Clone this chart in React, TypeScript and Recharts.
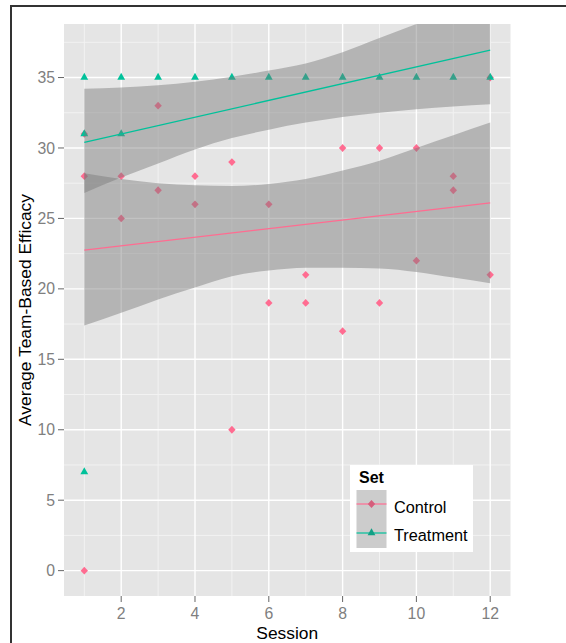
import React from 'react'
import {
  ComposedChart, Scatter, Line, Area, XAxis, YAxis, CartesianGrid, ReferenceLine, Legend
} from 'recharts'

const controlSession = [1, 1, 1, 2, 2, 3, 3, 4, 4, 5, 5, 6, 6, 7, 7, 8, 8, 9, 9, 10, 10, 11, 11, 12, 12]
const controlScore = [28, 0, 31, 28, 25, 33, 27, 28, 26, 29, 10, 26, 19, 21, 19, 30, 17, 30, 19, 30, 22, 28, 27, 35, 21]
const treatmentSession = [1, 1, 1, 2, 2, 3, 4, 5, 6, 7, 8, 9, 10, 11, 12]
const treatmentScore = [35, 31, 7, 35, 31, 35, 35, 35, 35, 35, 35, 35, 35, 35, 35]

// fitted lm lines (end points)
const fitSessions = [1, 12]
const controlFit = [22.75, 26.1]
const treatmentFit = [30.4, 36.95]

// confidence bands at each session
const sessions = [1, 2, 3, 4, 5, 6, 7, 8, 9, 10, 11, 12]
const controlLow = [17.4, 18.3, 19.25, 20.1, 20.9, 21.3, 21.5, 21.5, 21.45, 21.2, 20.8, 20.4]
const controlHigh = [28.2, 27.8, 27.5, 27.35, 27.3, 27.45, 27.8, 28.4, 29.1, 30.0, 30.9, 31.8]
const treatmentLow = [26.8, 27.9, 28.9, 29.9, 30.7, 31.3, 31.8, 32.2, 32.5, 32.75, 32.95, 33.1]
const treatmentHigh = [34.2, 34.3, 34.45, 34.7, 35.05, 35.5, 36.0, 36.8, 37.8, 38.8, 39.8, 40.8]

const xMajor = [2, 4, 6, 8, 10, 12]
const xMinor = [1, 3, 5, 7, 9, 11]
const yMajor = [0, 5, 10, 15, 20, 25, 30, 35]
const yMinor = [2.5, 7.5, 12.5, 17.5, 22.5, 27.5, 32.5, 37.5]

const PINK = '#FF6C91'
const TEAL = '#00C19A'
const FONT = '"Liberation Sans", Arial, sans-serif'

const controlPoints = controlSession.map((s, i) => ({ session: s, value: controlScore[i] }))
const treatmentPoints = treatmentSession.map((s, i) => ({ session: s, value: treatmentScore[i] }))
const controlLine = fitSessions.map((s, i) => ({ session: s, value: controlFit[i] }))
const treatmentLine = fitSessions.map((s, i) => ({ session: s, value: treatmentFit[i] }))
const bandData = sessions.map((s, i) => ({
  session: s,
  control: [controlLow[i], controlHigh[i]],
  treatment: [treatmentLow[i], treatmentHigh[i]],
}))

const Diamond = ({ cx, cy, fill }: any) => (
  <polygon points={`${cx},${cy - 3.9} ${cx + 3.7},${cy} ${cx},${cy + 3.9} ${cx - 3.7},${cy}`} fill={fill} />
)
const Triangle = ({ cx, cy, fill }: any) => (
  <polygon points={`${cx},${cy - 4.7} ${cx + 3.9},${cy + 2.3} ${cx - 3.9},${cy + 2.3}`} fill={fill} />
)

const LegendBox = () => (
  <svg width={123} height={87} style={{ display: 'block' }}>
    <rect x={0} y={0} width={123} height={87} fill="#fff" />
    <text x={9} y={18} fontFamily={FONT} fontSize={16} fontWeight="bold" fill="#000">Set</text>
    <rect x={6.5} y={25} width={30} height={58} fill="#CCCCCC" />
    <line x1={6.5} x2={36.5} y1={39} y2={39} stroke={PINK} strokeWidth={1.2} />
    <Diamond cx={21.5} cy={39} fill="#D55E7C" />
    <line x1={6.5} x2={36.5} y1={68} y2={68} stroke={TEAL} strokeWidth={1.2} />
    <Triangle cx={21.5} cy={68} fill="#12A085" />
    <text x={44} y={48} fontFamily={FONT} fontSize={16.3} fill="#000">Control</text>
    <text x={44} y={76} fontFamily={FONT} fontSize={16.3} fill="#000">Treatment</text>
  </svg>
)

export default function App() {
  return (
    <div style={{ position: 'absolute', left: 0, top: 0, width: 566, height: 643, overflow: 'hidden', background: '#fff' }}>
      <div style={{ position: 'absolute', left: 10, top: 5, width: 600, height: 700, borderLeft: '2px solid #333', borderTop: '2px solid #333' }} />
      <ComposedChart width={566} height={643} margin={{ top: 24, right: 55.5, bottom: 0, left: 18 }}>
        <CartesianGrid horizontal={false} vertical={false} fill="#E5E5E5" />
        {xMinor.map(v => <ReferenceLine key={'xm' + v} x={v} stroke="#F2F2F2" strokeWidth={1} zIndex={-50} />)}
        {yMinor.map(v => <ReferenceLine key={'ym' + v} y={v} stroke="#F2F2F2" strokeWidth={1} zIndex={-50} />)}
        {xMajor.map(v => <ReferenceLine key={'xM' + v} x={v} stroke="#FFFFFF" strokeWidth={1.4} zIndex={-40} />)}
        {yMajor.map(v => <ReferenceLine key={'yM' + v} y={v} stroke="#FFFFFF" strokeWidth={1.4} zIndex={-40} />)}
        <XAxis
          type="number" dataKey="session" domain={[0.45, 12.55]} ticks={xMajor} allowDataOverflow
          axisLine={false} tickLine={{ stroke: '#666' }} tickSize={6} tickMargin={6} height={47}
          tick={{ fill: '#7F7F7F', fontSize: 15.8, fontFamily: FONT }}
          label={{
            content: (p: any) => (
              <text x={p.viewBox.x + p.viewBox.width / 2} y={p.viewBox.y + p.viewBox.height - 4}
                textAnchor="middle" fontFamily={FONT} fontSize={17.4} fill="#000">Session</text>
            ),
          }}
        />
        <YAxis
          type="number" domain={[-1.8, 38.8]} ticks={yMajor} allowDataOverflow
          axisLine={false} tickLine={{ stroke: '#666' }} tickSize={6} tickMargin={3} width={46}
          tick={{ fill: '#7F7F7F', fontSize: 15.8, fontFamily: FONT }}
          label={{
            content: (p: any) => {
              const x = p.viewBox.x + 12.5
              const y = p.viewBox.y + p.viewBox.height / 2
              return (
                <text x={x} y={y} transform={`rotate(-90, ${x}, ${y})`} textAnchor="middle"
                  fontFamily={FONT} fontSize={17.4} fill="#000">Average Team-Based Efficacy</text>
              )
            },
          }}
        />
        <Scatter name="Control" data={controlPoints} dataKey="value" fill={PINK} shape={(p: any) => <Diamond {...p} fill={PINK} />} isAnimationActive={false} zIndex={50} />
        <Scatter name="Treatment" data={treatmentPoints} dataKey="value" fill={TEAL} shape={(p: any) => <Triangle {...p} fill={TEAL} />} isAnimationActive={false} zIndex={50} />
        <Area data={bandData} dataKey="control" type="monotone" stroke="none" fill="#777777" fillOpacity={0.45} isAnimationActive={false} />
        <Area data={bandData} dataKey="treatment" type="monotone" stroke="none" fill="#777777" fillOpacity={0.45} isAnimationActive={false} />
        <Line data={controlLine} dataKey="value" stroke={PINK} strokeWidth={1.3} dot={false} isAnimationActive={false} />
        <Line data={treatmentLine} dataKey="value" stroke={TEAL} strokeWidth={1.3} dot={false} isAnimationActive={false} />
        <Legend layout="vertical" align="center" verticalAlign="middle"
          wrapperStyle={{ left: 350, top: 465, width: 123, height: 87 }} content={() => <LegendBox />} />
      </ComposedChart>
    </div>
  )
}
